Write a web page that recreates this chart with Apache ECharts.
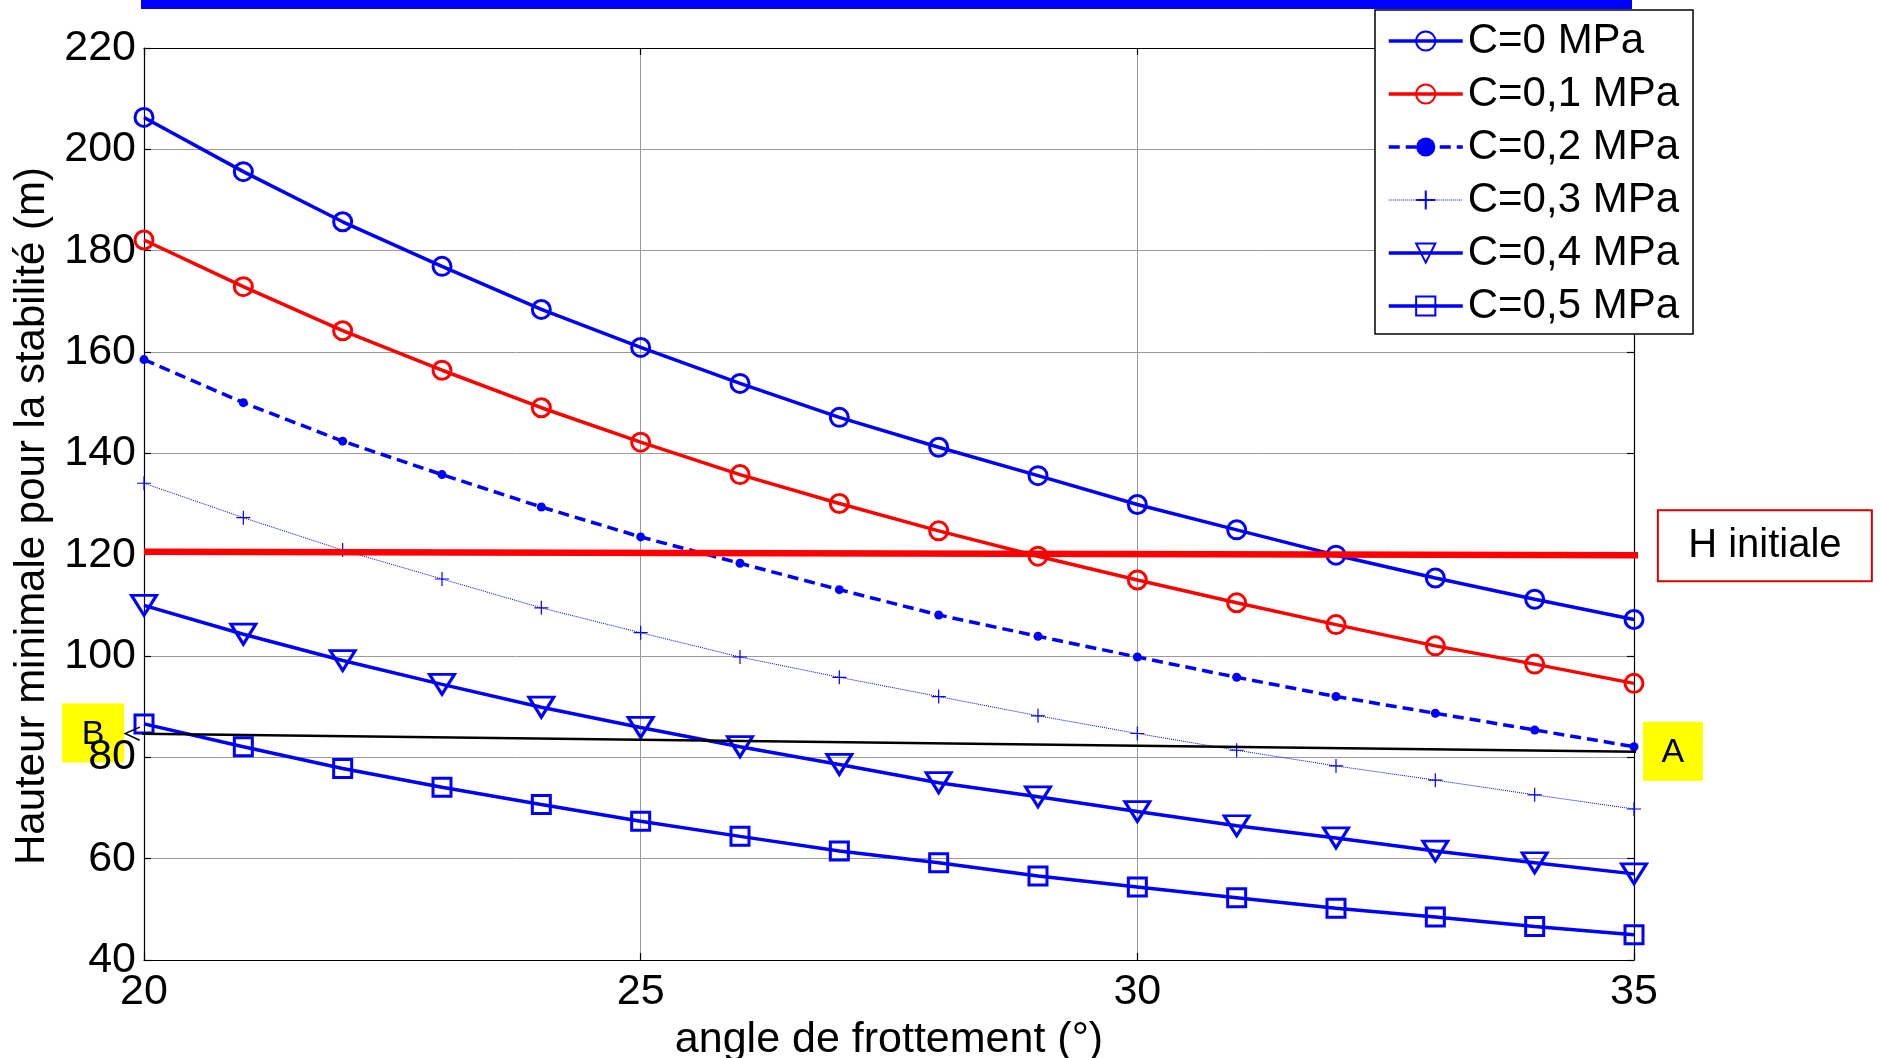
<!DOCTYPE html>
<html>
<head>
<meta charset="utf-8">
<script src="https://cdn.jsdelivr.net/npm/echarts@6/dist/echarts.min.js"></script>
<style>
  html, body { margin: 0; padding: 0; background: #fff; }
  #chart { width: 1880px; height: 1058px; }
</style>
</head>
<body>
<div id="chart"></div>
<script>
// Angle de frottement (°)
const angles = [20, 21, 22, 23, 24, 25, 26, 27, 28, 29, 30, 31, 32, 33, 34, 35];

// Hauteur minimale pour la stabilité (m), one list per cohesion value
const hC00 = [206.3, 195.6, 185.7, 176.9, 168.4, 160.9, 153.8, 147.1, 141.2, 135.6, 129.9, 124.9, 119.9, 115.4, 111.2, 107.2];
const hC01 = [182.1, 172.9, 164.2, 156.4, 149.0, 142.2, 135.8, 130.1, 124.7, 119.7, 115.0, 110.5, 106.2, 102.0, 98.4, 94.6];
const hC02 = [158.5, 150.0, 142.4, 135.8, 129.4, 123.5, 118.3, 113.1, 108.1, 103.9, 99.8, 95.8, 92.0, 88.7, 85.4, 82.1];
const hC03 = [134.1, 127.3, 120.9, 115.2, 109.5, 104.6, 99.8, 95.8, 92.0, 88.2, 84.7, 81.4, 78.3, 75.5, 72.6, 69.8];
const hC04 = [110.0, 104.3, 99.1, 94.4, 89.9, 85.9, 82.1, 78.6, 75.0, 72.2, 69.3, 66.5, 64.1, 61.5, 59.2, 57.0];
const hC05 = [86.6, 82.1, 77.8, 74.1, 70.7, 67.4, 64.4, 61.5, 59.2, 56.6, 54.4, 52.3, 50.2, 48.5, 46.6, 45.0];

const seriesNames = ['C=0 MPa', 'C=0,1 MPa', 'C=0,2 MPa', 'C=0,3 MPa', 'C=0,4 MPa', 'C=0,5 MPa'];

// Initial height reference line, and the A → B arrow
const hInitX = [20, 35.24];
const hInitY = [120.6, 119.9];
const abX = [35.08, 19.81];
const abY = [81.1, 84.7];

const xTicks = { min: 20, max: 35, interval: 5 };
const yTicks = { min: 40, max: 220, interval: 20 };

const FONT = '"Liberation Sans", Arial, sans-serif';
const BLUE = '#0000ff';
const RED = '#ff0000';

const pairs = ys => angles.map((a, i) => [a, ys[i]]);

function curve(name, ys, opts) {
  return Object.assign({
    name: name,
    type: 'line',
    data: pairs(ys),
    showSymbol: true,
    silent: true,
    z: 3
  }, opts);
}

const chart = echarts.init(document.getElementById('chart'), null, { renderer: 'canvas' });

const axisCommon = {
  axisLine: { show: true, lineStyle: { color: '#000', width: 1.2 } },
  axisTick: { show: true, inside: true, length: 7, lineStyle: { color: '#000', width: 1.2 } }
};

const option = {
  animation: false,
  backgroundColor: '#fff',
  grid: {
    left: 144, right: 246, top: 48, bottom: 98,
    show: false,
    containLabel: false,
    outerBoundsMode: 'none'
  },
  xAxis: [
    Object.assign({
      type: 'value', position: 'bottom',
      min: xTicks.min, max: xTicks.max, interval: xTicks.interval,
      name: 'angle de frottement (°)',
      nameLocation: 'middle', nameGap: 52,
      nameTextStyle: { fontFamily: FONT, fontSize: 43, color: '#000' },
      axisLabel: { fontFamily: FONT, fontSize: 43, color: '#000', margin: 11 },
      splitLine: { show: true, lineStyle: { color: '#9a9a9a', width: 1 } }
    }, axisCommon),
    Object.assign({
      type: 'value', position: 'top',
      min: xTicks.min, max: xTicks.max, interval: xTicks.interval,
      axisLabel: { show: false },
      splitLine: { show: false }
    }, axisCommon)
  ],
  yAxis: [
    Object.assign({
      type: 'value', position: 'left',
      min: yTicks.min, max: yTicks.max, interval: yTicks.interval,
      name: 'Hauteur minimale pour la stabilité (m)',
      nameLocation: 'middle', nameGap: 86,
      nameTextStyle: { fontFamily: FONT, fontSize: 42, color: '#000', padding: [0, 24, 0, 0] },
      axisLabel: { fontFamily: FONT, fontSize: 43, color: '#000', margin: 8 },
      splitLine: { show: true, lineStyle: { color: '#9a9a9a', width: 1 } }
    }, axisCommon),
    Object.assign({
      type: 'value', position: 'right',
      min: yTicks.min, max: yTicks.max, interval: yTicks.interval,
      axisLabel: { show: false },
      splitLine: { show: false }
    }, axisCommon)
  ],
  legend: {
    data: seriesNames,
    orient: 'vertical',
    left: 1375, top: 10,
    padding: [9, 14, 6, 12],
    itemGap: 9,
    itemWidth: 74,
    itemHeight: 24,
    selectedMode: false,
    backgroundColor: '#fff',
    borderColor: '#000',
    borderWidth: 1.5,
    borderRadius: 0,
    lineStyle: { width: 'inherit' },
    textStyle: { fontFamily: FONT, fontSize: 42, color: '#000', lineHeight: 44 },
    z: 10
  },
  series: [
    curve(seriesNames[0], hC00, {
      symbol: 'circle', symbolSize: 18,
      lineStyle: { color: BLUE, width: 3.5 },
      itemStyle: { color: 'rgba(0,0,0,0)', borderColor: BLUE, borderWidth: 3 }
    }),
    curve(seriesNames[1], hC01, {
      symbol: 'circle', symbolSize: 18,
      lineStyle: { color: RED, width: 3.5 },
      itemStyle: { color: 'rgba(0,0,0,0)', borderColor: RED, borderWidth: 3 }
    }),
    curve(seriesNames[2], hC02, {
      symbol: 'circle', symbolSize: 9,
      lineStyle: { color: BLUE, width: 3.5, type: [11, 6] },
      itemStyle: { color: BLUE, borderWidth: 0 }
    }),
    curve(seriesNames[3], hC03, {
      symbol: 'path://M5,0 L5,10 M0,5 L10,5', symbolSize: 14,
      lineStyle: { color: BLUE, width: 1, type: 'dotted' },
      itemStyle: { color: 'rgba(0,0,0,0)', borderColor: BLUE, borderWidth: 1.2 }
    }),
    curve(seriesNames[4], hC04, {
      symbol: 'path://M0,0 L10,0 L5,8 Z', symbolSize: [25, 20],
      lineStyle: { color: BLUE, width: 3.5 },
      itemStyle: { color: 'rgba(0,0,0,0)', borderColor: BLUE, borderWidth: 3 }
    }),
    curve(seriesNames[5], hC05, {
      symbol: 'rect', symbolSize: 18,
      lineStyle: { color: BLUE, width: 3.5 },
      itemStyle: { color: 'rgba(0,0,0,0)', borderColor: BLUE, borderWidth: 3 }
    }),
    {
      name: 'H initiale',
      type: 'line',
      data: hInitX.map((x, i) => [x, hInitY[i]]),
      symbol: 'none',
      clip: false,
      silent: true,
      lineStyle: { color: RED, width: 6.5 },
      z: 4
    },
    {
      name: 'A-B',
      type: 'line',
      data: abX.map((x, i) => [x, abY[i]]),
      symbol: 'none',
      clip: false,
      silent: true,
      lineStyle: { color: '#000', width: 2.5 },
      z: 4
    }
  ]
};

chart.setOption(option);

// Annotation boxes anchored to the ends of the reference lines
const hEnd = chart.convertToPixel({ xAxisIndex: 0, yAxisIndex: 0 }, [hInitX[1], hInitY[1]]);
const aEnd = chart.convertToPixel({ xAxisIndex: 0, yAxisIndex: 0 }, [abX[0], abY[0]]);
const bEnd = chart.convertToPixel({ xAxisIndex: 0, yAxisIndex: 0 }, [abX[1], abY[1]]);
const ang = Math.atan2(aEnd[1] - bEnd[1], aEnd[0] - bEnd[0]);
const headLen = 16, headSpread = 0.42;

chart.setOption({
  graphic: [
    // blue band along the top edge
    { type: 'rect', shape: { x: 141, y: 0, width: 1491, height: 9 }, style: { fill: BLUE }, z: 1, silent: true },
    // H initiale label
    {
      type: 'group', silent: true, z: 20,
      children: [
        { type: 'rect', shape: { x: hEnd[0], y: hEnd[1] - 45, width: 214, height: 71 },
          style: { fill: '#fff', stroke: '#d40000', lineWidth: 2 } },
        { type: 'text', x: hEnd[0] + 107, y: hEnd[1] - 9.5,
          style: { text: 'H initiale', font: '40px ' + FONT, fill: '#000', align: 'center', verticalAlign: 'middle' } }
      ]
    },
    // open arrow head at B
    {
      type: 'polyline', silent: true, z: 20,
      shape: { points: [
        [bEnd[0] + headLen * Math.cos(ang - headSpread), bEnd[1] + headLen * Math.sin(ang - headSpread)],
        [bEnd[0], bEnd[1]],
        [bEnd[0] + headLen * Math.cos(ang + headSpread), bEnd[1] + headLen * Math.sin(ang + headSpread)]
      ] },
      style: { stroke: '#000', lineWidth: 1.5, fill: null }
    },
    // A label
    {
      type: 'group', silent: true, z: 20,
      children: [
        { type: 'rect', shape: { x: aEnd[0] + 1, y: aEnd[1] - 30, width: 60, height: 59 }, style: { fill: '#ffff00' } },
        { type: 'text', x: aEnd[0] + 31, y: aEnd[1] + 1,
          style: { text: 'A', font: '34px ' + FONT, fill: '#000', align: 'center', verticalAlign: 'middle' } }
      ]
    },
    // B label
    {
      type: 'group', silent: true, z: 20,
      children: [
        { type: 'rect', shape: { x: bEnd[0] - 63, y: bEnd[1] - 30, width: 62, height: 59 }, style: { fill: '#ffff00' } },
        { type: 'text', x: bEnd[0] - 32, y: bEnd[1] + 1,
          style: { text: 'B', font: '34px ' + FONT, fill: '#000', align: 'center', verticalAlign: 'middle' } }
      ]
    }
  ]
});
</script>
</body>
</html>
